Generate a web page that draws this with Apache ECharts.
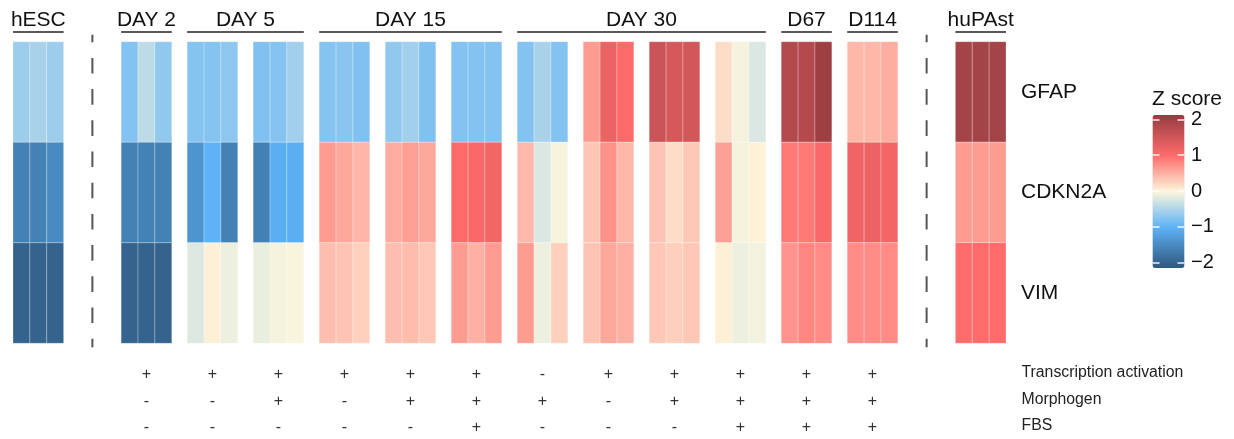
<!DOCTYPE html>
<html>
<head>
<meta charset="utf-8">
<script src="https://cdn.jsdelivr.net/npm/echarts@6/dist/echarts.min.js"></script>
<style>
html,body{margin:0;padding:0;background:#fff;}
#chart{width:1234px;height:439px;}
</style>
</head>
<body>
<div id="chart"></div>
<script>
// ---------------- DATA ----------------
const groupNames = ['hESC','DAY 2','DAY 5','DAY 5','DAY 15','DAY 15','DAY 15','DAY 30','DAY 30','DAY 30','DAY 30','D67','D114','huPAst'];
const genes = ['GFAP','CDKN2A','VIM'];
// 14 groups x 3 replicates (Z scores)
const gfap = [
  -0.60,-0.52,-0.60,  -0.76,-0.40,-0.68,  -0.75,-0.75,-0.70,  -0.78,-0.75,-0.57,
  -0.75,-0.72,-0.78,  -0.68,-0.57,-0.78,  -0.76,-0.76,-0.76,  -0.76,-0.52,-0.76,
   0.65, 1.20, 1.02,   1.57, 1.45, 1.48,   0.18,-0.05,-0.22,   1.82, 1.80, 2.05,
   0.45, 0.45, 0.52,   1.97, 1.97, 1.97
];
const cdkn2a = [
  -1.60,-1.60,-1.50,  -1.60,-1.60,-1.60,  -1.37,-1.00,-1.60,  -1.62,-1.05,-1.05,
   0.65, 0.56, 0.46,   0.53, 0.63, 0.56,   1.02, 1.06, 1.12,   0.44,-0.22,-0.04,
   0.35, 0.72, 0.45,   0.37, 0.18, 0.33,   0.62,-0.05, 0.03,   0.90, 0.90, 1.06,
   1.16, 1.19, 1.12,   0.65, 0.65, 0.65
];
const vim = [
  -1.97,-1.97,-1.97,  -1.97,-1.97,-1.97,  -0.20, 0.04,-0.10,  -0.12,-0.05,-0.03,
   0.40, 0.36, 0.27,   0.40, 0.42, 0.34,   0.65, 0.50, 0.65,   0.65,-0.10, 0.27,
   0.36, 0.56, 0.50,   0.34, 0.28, 0.34,   0.04,-0.10,-0.07,   0.70, 0.80, 0.76,
   0.76, 0.76, 0.76,   1.00, 1.00, 1.00
];
// header labels: [label, first group, last group]
const headerLabels = ['hESC','DAY 2','DAY 5','DAY 15','DAY 30','D67','D114','huPAst'];
const headerFirst  = [0,1,2,4,7,11,12,13];
const headerLast   = [0,1,3,6,10,11,12,13];
// condition table (groups DAY 2 .. D114)
const conditionNames = ['Transcription activation','Morphogen','FBS'];
const transcription = ['+','+','+','+','+','+','-','+','+','+','+','+'];
const morphogen     = ['-','-','+','-','+','+','+','-','+','+','+','+'];
const fbs           = ['-','-','-','-','-','+','-','-','-','+','+','+'];
const zTicks = [-2,-1,0,1,2];

// ---------------- LAYOUT ----------------
const FONT = '"Liberation Sans", Arial, Helvetica, sans-serif';
const GAP = 0.912, BIG = 3.41;
function groupStart(g){
  if (g === 0) return 0;
  if (g <= 12) return 3 + BIG + (g - 1) * (3 + GAP);
  return 3 + BIG + 11 * (3 + GAP) + 3 + BIG;
}
const XMAX = groupStart(13) + 3;
const separators = [3 + BIG / 2, groupStart(12) + 3 + BIG / 2];

// heatmap cells
const geneValues = [gfap, cdkn2a, vim];
const cells = [];
geneValues.forEach((arr, r) => {
  arr.forEach((v, c) => {
    const g = Math.floor(c / 3), j = c % 3;
    cells.push([groupStart(g) + j + 0.5, r, v]);
  });
});

// headers
const headerData = headerLabels.map((_, i) => [groupStart(headerFirst[i]), groupStart(headerLast[i]) + 3, 0]);

// signs
const condRows = [transcription, morphogen, fbs];
const signData = [], signText = [];
condRows.forEach((row, r) => {
  row.forEach((s, k) => {
    signData.push([groupStart(k + 1) + 1.5, r]);
    signText.push(s);
  });
});

// colour palette (anchors at Z values)
const anchors = [[-2.13,'#30597f'],[-2,'#34618a'],[-1,'#5db2f7'],[0,'#fdf6dc'],[1,'#ff6b6b'],[2,'#a14247'],[2.13,'#983a3f']];
function hex2rgb(h){return [parseInt(h.slice(1,3),16),parseInt(h.slice(3,5),16),parseInt(h.slice(5,7),16)];}
function colorAt(v){
  for (let i = 0; i < anchors.length - 1; i++) {
    const a = anchors[i], b = anchors[i + 1];
    if (v <= b[0] + 1e-9) {
      const t = (v - a[0]) / (b[0] - a[0]);
      const ca = hex2rgb(a[1]), cb = hex2rgb(b[1]);
      const c = ca.map((x, k) => Math.round(x + (cb[k] - x) * t));
      return 'rgb(' + c.join(',') + ')';
    }
  }
  return anchors[anchors.length - 1][1];
}
const NSTOP = 107;
const stops = [];
for (let i = 0; i < NSTOP; i++) stops.push(colorAt(-2.13 + 4.26 * i / (NSTOP - 1)));

const chart = echarts.init(document.getElementById('chart'));
const option = {
  animation: false,
  textStyle: { fontFamily: FONT },
  title: {
    text: 'Z score', left: 1152, top: 88.5, padding: 0,
    textStyle: { fontSize: 21, fontWeight: 'normal', color: '#111', fontFamily: FONT }
  },
  grid: [
    { left: 13, right: 228, top: 41.7, height: 301.6 },
    { left: 13, right: 228, top: 359.5, height: 81.6 },
    { left: 1152.5, top: 119.3, width: 32, height: 143.4 }
  ],
  xAxis: [
    { type: 'value', gridIndex: 0, min: 0, max: XMAX, show: false },
    { type: 'value', gridIndex: 1, min: 0, max: XMAX, show: false },
    { type: 'value', gridIndex: 2, min: 0, max: 1, show: false }
  ],
  yAxis: [
    { type: 'category', gridIndex: 0, data: genes, inverse: true, position: 'right',
      axisLine: { show: false }, axisTick: { show: false }, splitLine: { show: false },
      axisLabel: { margin: 15, fontSize: 21, color: '#111', fontFamily: FONT } },
    { type: 'category', gridIndex: 1, data: conditionNames, inverse: true, position: 'right',
      axisLine: { show: false }, axisTick: { show: false }, splitLine: { show: false },
      axisLabel: { margin: 15.5, fontSize: 15.8, color: '#222', fontFamily: FONT } },
    { type: 'value', gridIndex: 2, min: zTicks[0], max: zTicks[zTicks.length - 1], interval: 1, position: 'left', z: 10,
      axisLine: { show: false }, splitLine: { show: false }, axisLabel: { show: false },
      axisTick: { show: true, inside: true, length: 7, lineStyle: { color: 'rgba(255,255,255,0.9)', width: 1.5 } } },
    { type: 'value', gridIndex: 2, min: zTicks[0], max: zTicks[zTicks.length - 1], interval: 1, position: 'right', z: 10,
      axisLine: { show: false }, splitLine: { show: false },
      axisTick: { show: true, inside: true, length: 7, lineStyle: { color: 'rgba(255,255,255,0.9)', width: 1.5 } },
      axisLabel: { show: true, margin: 6.5, fontSize: 20, color: '#111', fontFamily: FONT,
        formatter: v => (v < 0 ? '\u2212' + Math.abs(v) : String(v)) } }
  ],
  visualMap: {
    type: 'continuous', seriesIndex: 0, dimension: 2,
    min: -2.13, max: 2.13, calculable: false, hoverLink: false,
    orient: 'vertical', left: 1152.5, top: 115, itemWidth: 32, itemHeight: 153,
    padding: 0, text: null, showLabel: false,
    inRange: { color: stops }
  },
  series: [
    {
      type: 'custom', xAxisIndex: 0, yAxisIndex: 0, data: cells,
      encode: { x: 0, y: 1 },
      renderItem: function (params, api) {
        const c = api.coord([api.value(0), api.value(1)]);
        const w = api.size([1, 0])[0];
        const h = api.size([0, 1])[1];
        return {
          type: 'rect',
          shape: { x: c[0] - w / 2, y: c[1] - h / 2, width: w, height: h },
          style: { fill: api.visual('color'), stroke: 'rgba(255,255,255,0.25)', lineWidth: 1 }
        };
      }
    },
    {
      type: 'custom', xAxisIndex: 0, yAxisIndex: 0, data: headerData,
      encode: { x: [0, 1], y: 2 },
      renderItem: function (params, api) {
        const x1 = api.coord([api.value(0), 0])[0];
        const x2 = api.coord([api.value(1), 0])[0];
        const top = params.coordSys.y;
        return {
          type: 'group',
          children: [
            { type: 'line', shape: { x1: x1, y1: top - 9.7, x2: x2, y2: top - 9.7 },
              style: { stroke: '#222', lineWidth: 1.3 } },
            { type: 'text', x: (x1 + x2) / 2, y: top - 21.8,
              style: { text: headerLabels[params.dataIndex], align: 'center', verticalAlign: 'middle',
                fontSize: 21, fontFamily: FONT, fill: '#111' } }
          ]
        };
      }
    },
    {
      type: 'custom', xAxisIndex: 0, yAxisIndex: 0, data: separators.map(x => [x, 0]),
      encode: { x: 0, y: 1 },
      renderItem: function (params, api) {
        const x = api.coord([api.value(0), 0])[0];
        const top = params.coordSys.y, bottom = top + params.coordSys.height;
        return {
          type: 'line', shape: { x1: x, y1: top - 7, x2: x, y2: bottom + 4 },
          style: { stroke: '#555', lineWidth: 2, lineDash: [15.6, 15.6], lineDashOffset: 8 }
        };
      }
    },
    {
      type: 'custom', xAxisIndex: 1, yAxisIndex: 1, data: signData,
      encode: { x: 0, y: 1 },
      renderItem: function (params, api) {
        const c = api.coord([api.value(0), api.value(1)]);
        return {
          type: 'text', x: c[0], y: c[1] + 2.3,
          style: { text: signText[params.dataIndex], align: 'center', verticalAlign: 'middle',
            fontSize: 16, fontFamily: FONT, fill: '#333' }
        };
      }
    }
  ]
};
chart.setOption(option);
</script>
</body>
</html>
